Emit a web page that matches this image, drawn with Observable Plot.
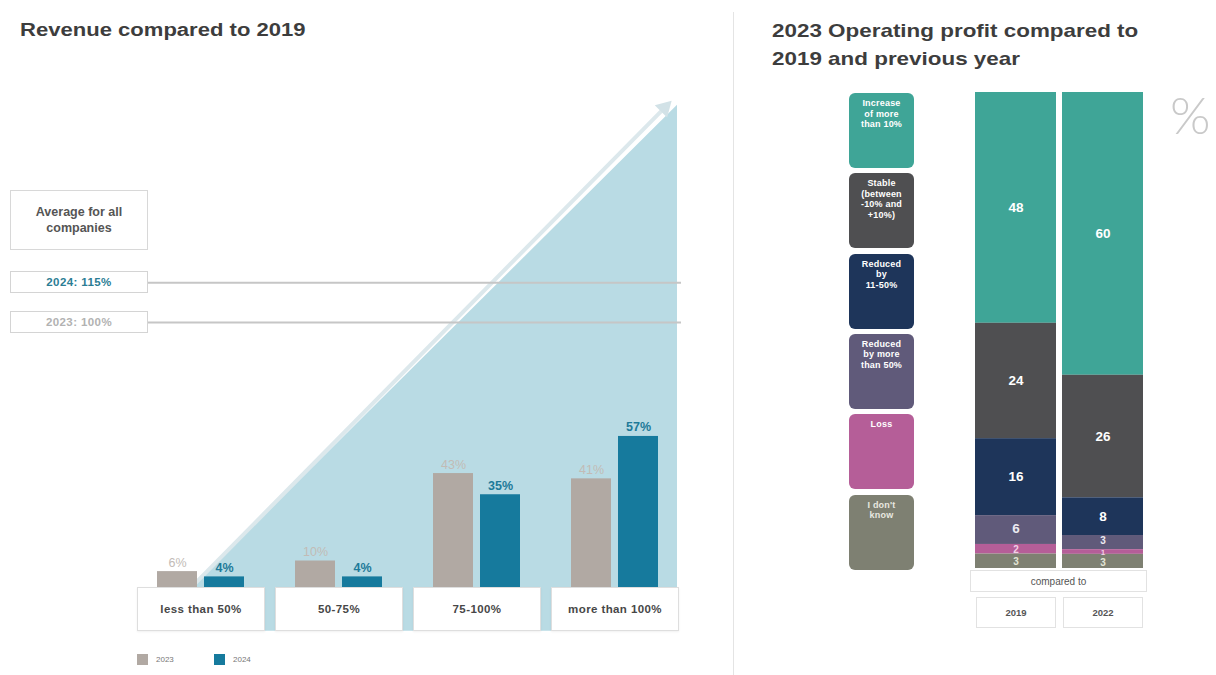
<!DOCTYPE html>
<html><head><meta charset="utf-8">
<script src="https://cdn.jsdelivr.net/npm/d3@7"></script>
<script src="https://cdn.jsdelivr.net/npm/@observablehq/plot@0.6"></script>
<style>
body{margin:0;background:#fff;font-family:"Liberation Sans",Arial,sans-serif;}
#root{position:relative;width:1216px;height:675px;overflow:hidden;background:#fff;}
.abs{position:absolute;}
.title{position:absolute;font-weight:bold;color:#3d3d3d;transform-origin:0 0;white-space:nowrap;}
.box{position:absolute;background:#fff;border:1px solid #dedede;box-sizing:border-box;display:flex;align-items:center;justify-content:center;text-align:center;font-weight:bold;white-space:nowrap;}
.leg{position:absolute;border-radius:6px;box-sizing:border-box;color:#fff;font-weight:bold;font-size:9px;line-height:10.5px;letter-spacing:0.2px;text-align:center;padding-top:5px;}
svg{position:absolute;top:0;}
</style></head>
<body><div id="root"></div>
<script>
// ---------- data ----------
const categories = ["less than 50%", "50-75%", "75-100%", "more than 100%"];
const years = ["2023", "2024"];
const revenue2023 = [6, 10, 43, 41];
const revenue2024 = [4, 4, 35, 57];
const averageYears = ["2024", "2023"];
const averageValues = [115, 100];

const profitCategories = ["Increase of more than 10%", "Stable (between -10% and +10%)", "Reduced by 11-50%", "Reduced by more than 50%", "Loss", "I don't know"];
const legendLines = [["Increase", "of more", "than 10%"], ["Stable", "(between", "-10% and", "+10%)"], ["Reduced", "by", "11-50%"], ["Reduced", "by more", "than 50%"], ["Loss"], ["I don't", "know"]];
const comparedTo = ["2019", "2022"];
const profit2019 = [48, 24, 16, 6, 2, 3];
const profit2022 = [60, 26, 8, 3, 1, 3];

// ---------- styles ----------
const yearColors = ["#b1a9a3", "#167a9d"];
const profitColors = ["#3fa597", "#4f4f51", "#1e355a", "#605a7a", "#b55e98", "#7e8072"];
const labelColors = ["#ffffff", "#ffffff", "#ffffff", "#eceaf2", "#f4cfe6", "#e2e5d6"];
const labelDy = [0, 0, 0, -1.5, 0.5, 1];

const root = document.getElementById("root");
function el(cls, style, html) {
  const d = document.createElement("div");
  d.className = cls;
  Object.assign(d.style, style);
  if (html != null) d.innerHTML = html;
  root.append(d);
  return d;
}

const revenue = categories.flatMap((c, i) => [
  {category: c, year: years[0], value: revenue2023[i]},
  {category: c, year: years[1], value: revenue2024[i]}
]);

const Y_DOMAIN = [-20, 200];
const common = {width: 733, height: 675, marginTop: 57, marginBottom: 35};

// ---------- left: background (triangle, arrow, average lines) ----------
const wedge = [{x: 148, y: -16.5}, {x: 677, y: 182}];
const arrowPath = [{x1: 188, y1: -1, x2: 664, y2: 181}];
const bg = Plot.plot({
  ...common,
  marginLeft: 0, marginRight: 0,
  style: {background: "transparent"},
  x: {domain: [0, 733], axis: null},
  y: {domain: Y_DOMAIN, axis: null},
  marks: [
    Plot.area(wedge, {x1: "x", y1: -16.5, y2: "y", fill: "#b9dbe4"}),
    Plot.link(arrowPath, {x1: "x1", y1: "y1", x2: "x2", y2: "y2", stroke: "#dce8ec", strokeWidth: 4}),
    Plot.dot(arrowPath, {x: "x2", y: "y2", symbol: "triangle", r: 6.5, rotate: 45, fill: "#d2e2e7", stroke: "none"}),
    Plot.ruleY(averageValues, {x1: 148, x2: 681, stroke: "#c6c6c6", strokeWidth: 2})
  ]
});
bg.style.left = "0px";
root.append(bg);

// ---------- left: bars ----------
const fg = Plot.plot({
  ...common,
  marginLeft: 136, marginRight: 52,
  style: {background: "transparent"},
  facet: {data: revenue, x: "category"},
  fx: {domain: categories, paddingInner: 0.072, paddingOuter: 0, axis: null},
  x: {domain: years, paddingInner: 0.146, paddingOuter: 0.417, axis: null},
  y: {domain: Y_DOMAIN, axis: null},
  color: {domain: years, range: yearColors},
  marks: [
    Plot.barY(revenue, {x: "year", y: "value", fill: "year"}),
    Plot.text(revenue, {filter: d => d.year === years[0], x: "year", y: "value", text: d => d.value + "%", dy: -9, fill: "#c2bbb6", fontSize: 12.5, fontFamily: "Liberation Sans, Arial"}),
    Plot.text(revenue, {filter: d => d.year === years[1], x: "year", y: "value", text: d => d.value + "%", dy: -9, fill: "#1d7a99", fontSize: 12.5, fontWeight: "bold", fontFamily: "Liberation Sans, Arial"})
  ]
});

// category boxes (from fx scale)
const fx = fg.scale("fx");
const yL = fg.scale("y");
const base = yL.apply(0);
categories.forEach(c => {
  const x0 = fx.apply(c);
  el("box", {left: x0 + "px", top: base + "px", width: fx.bandwidth + "px", height: "44px", fontSize: "11.5px", color: "#474747", letterSpacing: "0.4px", boxShadow: "0 1px 2px rgba(0,0,0,0.06)"}, c);
});
fg.style.left = "0px";
root.append(fg);

// average boxes
el("box", {left: "10px", top: "190px", width: "138px", height: "60px", fontSize: "12.5px", color: "#555", lineHeight: "16px", whiteSpace: "normal", borderColor: "#d8d8d8"}, "Average for all<br>companies");
const avgColors = ["#2b7d94", "#b2b2b2"];
averageYears.forEach((yr, i) => {
  const yy = yL.apply(averageValues[i]);
  el("box", {left: "10px", top: (yy - 11) + "px", width: "138px", height: "22px", fontSize: "11.5px", color: avgColors[i], letterSpacing: "0.4px", borderColor: "#d4d4d4"}, `${yr}: ${averageValues[i]}%`);
});

// legend left
years.forEach((yr, i) => {
  const lx = 137 + i * 77;
  el("abs", {left: lx + "px", top: "654px", width: "11px", height: "11px", background: yearColors[i]});
  el("abs", {left: (lx + 19) + "px", top: "654px", fontSize: "8px", lineHeight: "11px", color: "#777"}, yr);
});

// titles
el("title", {left: "20px", top: "19px", fontSize: "17.5px", lineHeight: "22px", transform: "scaleX(1.26)"}, "Revenue compared to 2019");
el("title", {left: "772px", top: "17px", fontSize: "19px", lineHeight: "28px", transform: "scaleX(1.18)"}, "2023 Operating profit compared to<br>2019 and previous year");

// divider
el("abs", {left: "733px", top: "12px", width: "1px", height: "663px", background: "#e4e4e4"});

// ---------- right: stacked bars ----------
const profit = comparedTo.flatMap((yr, j) => profitCategories.map((c, i) => ({year: yr, category: c, value: (j ? profit2022 : profit2019)[i]})));
const stackOrder = profitCategories.slice().reverse();
const stackOpts = {x: "year", y: "value", z: "category", order: stackOrder, offset: "normalize"};
const rp = Plot.plot({
  width: 483, height: 675,
  marginLeft: 242, marginRight: 73, marginTop: 92, marginBottom: 107,
  style: {background: "transparent"},
  x: {domain: comparedTo, paddingInner: 0.069, paddingOuter: 0, axis: null},
  y: {axis: null},
  color: {domain: profitCategories, range: profitColors},
  marks: [
    Plot.barY(profit, Plot.stackY({...stackOpts, fill: "category"})),
    ...profitCategories.map((c, i) => Plot.text(profit, Plot.filter(d => d.category === c, Plot.stackY({...stackOpts, text: d => String(d.value), fill: labelColors[i], fontSize: d => d.value >= 5 ? 13.5 : (d.value >= 2 ? 10 : 8), dy: labelDy[i], fontWeight: "bold", fontFamily: "Liberation Sans, Arial"}))))
  ]
});
rp.style.left = "733px";
root.append(rp);

// right legend boxes
profitCategories.forEach((c, i) => {
  el("leg", {left: "849px", top: (93 + i * 80.3) + "px", width: "65px", height: "75px", background: profitColors[i], color: i === 5 ? "#e8e8e0" : "#fff"}, legendLines[i].join("<br>"));
});

// big percent sign
el("abs", {left: "1170px", top: "84px", fontSize: "52px", lineHeight: "60px", color: "#c9c9c9", fontFamily: "Lato, 'Liberation Sans'", fontWeight: "300"}, "%");

// compared to / year boxes
const xr = rp.scale("x");
const x19 = 733 + xr.apply(comparedTo[0]);
const x22 = 733 + xr.apply(comparedTo[1]);
el("box", {left: (x19 - 5) + "px", top: "570px", width: (x22 + xr.bandwidth - x19 + 9) + "px", height: "22px", fontSize: "10px", fontWeight: "normal", color: "#555", borderColor: "#e2e2e2"}, "compared to");
comparedTo.forEach(yr => {
  const xx = 733 + xr.apply(yr);
  el("box", {left: (xx + 1) + "px", top: "597px", width: (xr.bandwidth - 1) + "px", height: "31px", fontSize: "9.5px", color: "#555", borderColor: "#e2e2e2"}, yr);
});
</script>
</body></html>
